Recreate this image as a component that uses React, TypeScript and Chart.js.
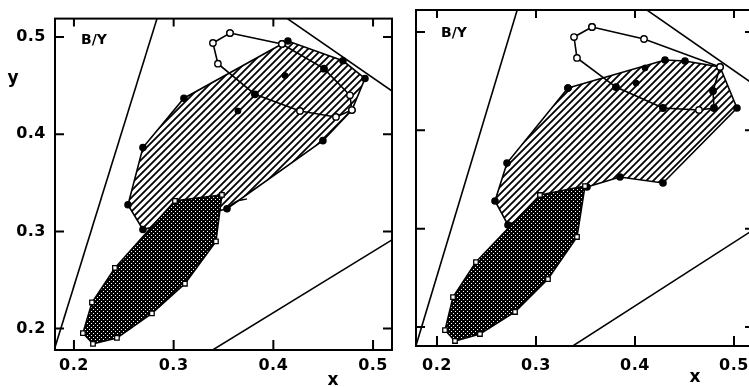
import React, { useEffect, useRef } from "react";
import { Chart, registerables } from "chart.js";

Chart.register(...registerables);

type Pt = [number, number];

// Shared axis ticks (x and y)
const tickValues = [0.2, 0.3, 0.4, 0.5];
const tickLabels = ["0.2", "0.3", "0.4", "0.5"];

// ---------- Left panel ----------
const leftRangeX: Pt = [0.181, 0.519];
const leftRangeY: Pt = [0.178, 0.519];

const leftSteepLine: Pt[] = [[0.175, 0.161], [0.2845, 0.523]];
const leftUpperLine: Pt[] = [[0.405, 0.5254], [0.53, 0.4367]];
const leftLowerLine: Pt[] = [[0.33, 0.1723], [0.53, 0.2983]];

const leftHatched: Pt[] = [
  [0.4086, 0.4929], [0.4146, 0.4959], [0.4698, 0.4756], [0.4919, 0.4574],
  [0.4788, 0.4249], [0.4497, 0.3934], [0.3535, 0.3234], [0.2692, 0.302],
  [0.2542, 0.3274], [0.2692, 0.3863], [0.3103, 0.4371],
];
const leftDense: Pt[] = [
  [0.3013, 0.3315], [0.3484, 0.3376], [0.3424, 0.2898], [0.3113, 0.2462],
  [0.2782, 0.2157], [0.2431, 0.1904], [0.2191, 0.1843], [0.209, 0.1954],
  [0.2181, 0.2269], [0.2411, 0.2624],
];
const leftLoop: Pt[] = [
  [0.3565, 0.5041], [0.4086, 0.4929], [0.4508, 0.4675], [0.4768, 0.4401],
  [0.4788, 0.4249], [0.4628, 0.4178], [0.4267, 0.4239], [0.3815, 0.4411],
  [0.3444, 0.4726], [0.3394, 0.4939], [0.3565, 0.5041],
];
const leftDots: Pt[] = [
  [0.4116, 0.4604], [0.3645, 0.4239], [0.4508, 0.4675], [0.3815, 0.4411],
];
const leftTail: Pt[] = [[0.3535, 0.3234], [0.362, 0.3305], [0.3736, 0.3335]];

// ---------- Right panel ----------
const rightRangeX: Pt = [0.1788, 0.5202];
const rightRangeY: Pt = [0.1806, 0.5224];

const rightSteepLine: Pt[] = [[0.174, 0.165], [0.2825, 0.5274]];
const rightUpperLine: Pt[] = [[0.405, 0.5273], [0.53, 0.4398]];
const rightLowerLine: Pt[] = [[0.33, 0.176], [0.53, 0.3056]];

const rightHatched: Pt[] = [
  [0.3323, 0.443], [0.4303, 0.4715], [0.4505, 0.4705], [0.4859, 0.4644],
  [0.503, 0.4227], [0.4283, 0.3464], [0.3848, 0.3525], [0.3515, 0.3423],
  [0.2717, 0.3037], [0.2586, 0.3281], [0.2707, 0.3667],
];
const rightDense: Pt[] = [
  [0.304, 0.3342], [0.3495, 0.3433], [0.3414, 0.2915], [0.3121, 0.2487],
  [0.2788, 0.2152], [0.2434, 0.1928], [0.2182, 0.1857], [0.2081, 0.1968],
  [0.2162, 0.2304], [0.2394, 0.266],
];
const rightLoop: Pt[] = [
  [0.3566, 0.5051], [0.4091, 0.4929], [0.4859, 0.4644], [0.4788, 0.44],
  [0.4798, 0.4227], [0.4646, 0.4207], [0.4283, 0.4227], [0.3808, 0.444],
  [0.3414, 0.4736], [0.3384, 0.4949], [0.3566, 0.5051],
];
const rightDots: Pt[] = [
  [0.4788, 0.44], [0.4283, 0.4227], [0.3808, 0.444], [0.401, 0.4481],
  [0.4101, 0.4634], [0.4798, 0.4227],
];
const rightTail: Pt[] = [];

const toXY = (pts: Pt[]) => pts.map(([x, y]) => ({ x, y }));
const closed = (pts: Pt[]) => toXY([...pts, pts[0]]);

function makeHatch(): CanvasPattern | string {
  const s = 7;
  const c = document.createElement("canvas");
  c.width = s;
  c.height = s;
  const g = c.getContext("2d");
  if (!g) return "#888";
  g.fillStyle = "#fff";
  g.fillRect(0, 0, s, s);
  g.strokeStyle = "#000";
  g.lineWidth = 1.8;
  g.beginPath();
  g.moveTo(-1, s + 1);
  g.lineTo(s + 1, -1);
  g.moveTo(-1, 1);
  g.lineTo(1, -1);
  g.moveTo(s - 1, s + 1);
  g.lineTo(s + 1, s - 1);
  g.stroke();
  return g.createPattern(c, "repeat") || "#888";
}

function makeDense(): CanvasPattern | string {
  const s = 4;
  const c = document.createElement("canvas");
  c.width = s;
  c.height = s;
  const g = c.getContext("2d");
  if (!g) return "#222";
  g.fillStyle = "#000";
  g.fillRect(0, 0, s, s);
  g.fillStyle = "#fff";
  g.fillRect(1, 1, 1, 1);
  g.fillRect(3, 3, 1, 1);
  return g.createPattern(c, "repeat") || "#222";
}

// Frame, inward tick marks on all four sides, and free text labels
const framePlugin = {
  id: "panelFrame",
  beforeDraw(chart: any) {
    (chart.ctx as any).letterSpacing = "0.5px";
  },
  afterDraw(chart: any, _args: any, opts: any) {
    const { ctx, chartArea: a, scales } = chart;
    ctx.save();
    ctx.strokeStyle = "#000";
    ctx.lineWidth = 2;
    ctx.strokeRect(a.left, a.top, a.right - a.left, a.bottom - a.top);
    ctx.beginPath();
    for (const v of tickValues) {
      const px = scales.x.getPixelForValue(v);
      ctx.moveTo(px, a.bottom);
      ctx.lineTo(px, a.bottom - 10);
      ctx.moveTo(px, a.top);
      ctx.lineTo(px, a.top + 8);
      const py = scales.y.getPixelForValue(v);
      ctx.moveTo(a.left, py);
      ctx.lineTo(a.left + 9, py);
      ctx.moveTo(a.right, py);
      ctx.lineTo(a.right - 9, py);
    }
    ctx.stroke();
    ctx.fillStyle = "#000";
    ctx.textBaseline = "middle";
    for (const t of opts.texts || []) {
      ctx.font = t.font;
      (ctx as any).letterSpacing = "0px";
      ctx.textAlign = t.align || "left";
      const x = t.fromArea ? a.left + t.x : t.x;
      const y = t.fromArea ? a.top + t.y : t.y;
      ctx.fillText(t.text, x, y);
    }
    ctx.restore();
  },
};

interface PanelSpec {
  rangeX: Pt;
  rangeY: Pt;
  lines: Pt[][];
  hatched: Pt[];
  dense: Pt[];
  loop: Pt[];
  dots: Pt[];
  tail: Pt[];
  padTop: number;
  yAxisWidth: number;
  xAxisHeight: number;
  showYLabels: boolean;
  xLabelPad: number;
  texts: any[];
}

const tickFont = { family: "DejaVu Sans", size: 16, weight: "bold" as const };

function buildConfig(p: PanelSpec, hatch: any, dense: any): any {
  const lineSets = p.lines.map((l) => ({
    data: toXY(l),
    borderColor: "#000",
    borderWidth: 1.6,
    pointRadius: 0,
    fill: false,
    order: 6,
  }));
  return {
    type: "line",
    data: {
      datasets: [
        ...lineSets,
        {
          data: closed(p.hatched),
          borderColor: "#000",
          borderWidth: 1.6,
          backgroundColor: hatch,
          fill: "shape",
          pointRadius: 3,
          pointBackgroundColor: "#000",
          pointBorderColor: "#000",
          order: 5,
        },
        {
          data: closed(p.dense),
          borderColor: "#000",
          borderWidth: 1.6,
          backgroundColor: dense,
          fill: "shape",
          pointStyle: "rect",
          pointRadius: 3.2,
          pointBackgroundColor: "#fff",
          pointBorderColor: "#000",
          pointBorderWidth: 1.3,
          order: 4,
        },
        {
          data: toXY(p.loop),
          borderColor: "#000",
          borderWidth: 1.6,
          fill: false,
          pointRadius: 3.2,
          pointBackgroundColor: "#fff",
          pointBorderColor: "#000",
          pointBorderWidth: 1.4,
          order: 3,
        },
        {
          data: toXY(p.dots),
          showLine: false,
          fill: false,
          pointRadius: 3,
          pointBackgroundColor: "#000",
          pointBorderColor: "#000",
          order: 2,
        },
        {
          data: toXY(p.tail),
          borderColor: "#000",
          borderWidth: 1.3,
          tension: 0.4,
          fill: false,
          pointRadius: 0,
          order: 1,
        },
      ],
    },
    options: {
      animation: false,
      responsive: false,
      devicePixelRatio: 1,
      layout: { padding: { left: 0, right: 8, top: p.padTop, bottom: 0 } },
      elements: { line: { tension: 0 } },
      plugins: {
        legend: { display: false },
        tooltip: { enabled: false },
        panelFrame: { texts: p.texts },
      },
      scales: {
        x: {
          type: "linear",
          min: p.rangeX[0],
          max: p.rangeX[1],
          afterBuildTicks: (s: any) => {
            s.ticks = tickValues.map((v) => ({ value: v }));
          },
          afterFit: (s: any) => {
            s.height = p.xAxisHeight;
          },
          ticks: {
            callback: (v: number) => tickLabels[tickValues.indexOf(v)] ?? "",
            font: tickFont,
            color: "#000",
            padding: p.xLabelPad,
            maxRotation: 0,
            autoSkip: false,
          },
          grid: { display: false, drawTicks: false },
          border: { display: false },
        },
        y: {
          type: "linear",
          min: p.rangeY[0],
          max: p.rangeY[1],
          afterBuildTicks: (s: any) => {
            s.ticks = tickValues.map((v) => ({ value: v }));
          },
          afterFit: (s: any) => {
            s.width = p.yAxisWidth;
          },
          ticks: {
            display: p.showYLabels,
            callback: (v: number) => tickLabels[tickValues.indexOf(v)] ?? "",
            font: tickFont,
            color: "#000",
            padding: 9,
            autoSkip: false,
          },
          grid: { display: false, drawTicks: false },
          border: { display: false },
        },
      },
    },
    plugins: [framePlugin],
  };
}

const labelFont = "bold 14px 'DejaVu Sans'";
const axisFont = "bold 17px 'DejaVu Sans'";

const leftPanel: PanelSpec = {
  rangeX: leftRangeX,
  rangeY: leftRangeY,
  lines: [leftSteepLine, leftUpperLine, leftLowerLine],
  hatched: leftHatched,
  dense: leftDense,
  loop: leftLoop,
  dots: leftDots,
  tail: leftTail,
  padTop: 14,
  yAxisWidth: 55,
  xAxisHeight: 37,
  showYLabels: true,
  xLabelPad: 6,
  texts: [
    { text: "B/Y", x: 26, y: 22, fromArea: true, font: labelFont },
    { text: "y", x: 13, y: 79, align: "center", font: axisFont },
    { text: "x", x: 333, y: 381, align: "center", font: axisFont },
  ],
};

const rightPanel: PanelSpec = {
  rangeX: rightRangeX,
  rangeY: rightRangeY,
  lines: [rightSteepLine, rightUpperLine, rightLowerLine],
  hatched: rightHatched,
  dense: rightDense,
  loop: rightLoop,
  dots: rightDots,
  tail: rightTail,
  padTop: 10,
  yAxisWidth: 16,
  xAxisHeight: 41,
  showYLabels: false,
  xLabelPad: 10,
  texts: [
    { text: "B/Y", x: 25, y: 23, fromArea: true, font: labelFont },
    { text: "x", x: 295, y: 378, align: "center", font: axisFont },
  ],
};

function Panel({ spec, left, width }: { spec: PanelSpec; left: number; width: number }) {
  const ref = useRef<HTMLCanvasElement | null>(null);
  useEffect(() => {
    const canvas = ref.current;
    if (!canvas) return;
    const chart = new Chart(canvas, buildConfig(spec, makeHatch(), makeDense()));
    return () => chart.destroy();
  }, [spec]);
  return (
    <canvas
      ref={ref}
      width={width}
      height={387}
      style={{ position: "absolute", left, top: 0, width, height: 387 }}
    />
  );
}

export default function App() {
  return (
    <div
      style={{
        position: "absolute",
        left: 0,
        top: 0,
        width: 749,
        height: 387,
        overflow: "hidden",
        background: "#fff",
      }}
    >
      <Panel spec={leftPanel} left={0} width={400} />
      <Panel spec={rightPanel} left={400} width={362} />
    </div>
  );
}
